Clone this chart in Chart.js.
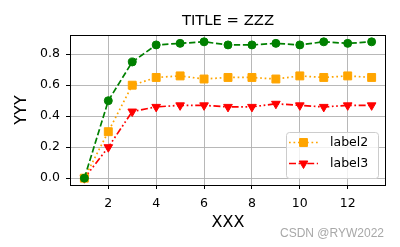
<!DOCTYPE html>
<html>
<head>
<meta charset="utf-8">
<script src="https://cdn.jsdelivr.net/npm/chart.js@4/dist/chart.umd.min.js"></script>
<style>
html,body{margin:0;padding:0;background:#fff;}
#c{display:block;}
</style>
</head>
<body>
<canvas id="c" width="400" height="247"></canvas>
<script>
// ---- data ----
const xValues = [1, 2, 3, 4, 5, 6, 7, 8, 9, 10, 11, 12, 13];
const seriesGreen  = [0.00, 0.50, 0.75, 0.86, 0.87, 0.88, 0.86, 0.86, 0.87, 0.86, 0.88, 0.87, 0.88];
const seriesLabel2 = [0.00, 0.30, 0.60, 0.65, 0.66, 0.64, 0.65, 0.65, 0.64, 0.66, 0.65, 0.66, 0.65];
const seriesLabel3 = [0.00, 0.20, 0.43, 0.46, 0.47, 0.47, 0.46, 0.46, 0.48, 0.47, 0.46, 0.47, 0.47];
const xTicks = [2, 4, 6, 8, 10, 12];
const yTicks = [0.0, 0.2, 0.4, 0.6, 0.8];
const titleText = 'TITLE = ZZZ';
const xLabel = 'XXX';
const yLabel = 'YYY';
const watermark = 'CSDN @RYW2022';

const toPts = s => xValues.map((x, i) => ({x: x, y: s[i]}));
const LW = 1.7;

const datasets = [
  {label: '', data: toPts(seriesGreen), borderColor: '#008000', backgroundColor: '#008000',
   borderDash: [6.3, 2.7], pointStyle: 'circle', pointRadius: 4, pointRotation: 0},
  {label: 'label2', data: toPts(seriesLabel2), borderColor: '#FFA500', backgroundColor: '#FFA500',
   borderDash: [1.7, 2.8], pointStyle: 'rect', pointRadius: 5.6, pointRotation: 0},
  {label: 'label3', data: toPts(seriesLabel3), borderColor: '#FF0000', backgroundColor: '#FF0000',
   borderDash: [7, 2.6, 1.7, 2.6, 1.7, 2.6], pointStyle: 'triangle', pointRadius: 5, pointRotation: 180}
].map(d => Object.assign(d, {
  borderWidth: LW, fill: false, tension: 0,
  pointBackgroundColor: d.backgroundColor, pointBorderColor: d.borderColor, pointBorderWidth: 1
}));

const FONT = 'DejaVu Sans';
const TICK_SIZE = 12.5;

const decor = {
  id: 'decor',
  afterDatasetsDraw(chart) {
    const {ctx, chartArea: a} = chart;
    ctx.save();
    ctx.strokeStyle = '#000';
    ctx.lineWidth = 1;
    ctx.strokeRect(Math.round(a.left) + 0.5, Math.round(a.top) + 0.5,
                   Math.round(a.right - a.left) - 1, Math.round(a.bottom - a.top));
    ctx.restore();
  },
  afterDraw(chart) {
    const {ctx, chartArea: a} = chart;
    ctx.save();
    // title
    ctx.fillStyle = '#000';
    ctx.font = '14.8px "' + FONT + '"';
    ctx.textAlign = 'center';
    ctx.textBaseline = 'alphabetic';
    ctx.fillText(titleText, (a.left + a.right) / 2, 24.5);

    // legend
    const items = chart.data.datasets.filter(d => d.label);
    const bx = 286.5, by = 132.5, bw = 92, bh = 46, r = 3;
    ctx.beginPath();
    ctx.moveTo(bx + r, by);
    ctx.arcTo(bx + bw, by, bx + bw, by + bh, r);
    ctx.arcTo(bx + bw, by + bh, bx, by + bh, r);
    ctx.arcTo(bx, by + bh, bx, by, r);
    ctx.arcTo(bx, by, bx + bw, by, r);
    ctx.closePath();
    ctx.fillStyle = 'rgba(255,255,255,0.8)';
    ctx.fill();
    ctx.strokeStyle = '#cccccc';
    ctx.lineWidth = 1;
    ctx.stroke();
    items.forEach((d, i) => {
      const y = 142.5 + i * 21;
      ctx.save();
      ctx.strokeStyle = d.borderColor;
      ctx.lineWidth = LW;
      ctx.setLineDash(d.borderDash);
      ctx.beginPath();
      ctx.moveTo(289, y);
      ctx.lineTo(318, y);
      ctx.stroke();
      ctx.restore();
      ctx.save();
      ctx.fillStyle = d.backgroundColor;
      ctx.strokeStyle = d.borderColor;
      ctx.lineWidth = 1;
      Chart.helpers.drawPoint(ctx, {pointStyle: d.pointStyle, radius: d.pointRadius,
        rotation: d.pointRotation, borderWidth: 1}, 303.5, y);
      ctx.restore();
      ctx.fillStyle = '#000';
      ctx.font = TICK_SIZE + 'px "' + FONT + '"';
      ctx.textAlign = 'left';
      ctx.textBaseline = 'middle';
      ctx.fillText(d.label, 330, y + 0.5);
    });

    // watermark
    ctx.fillStyle = '#a8a8a8';
    ctx.font = '12px "Liberation Sans"';
    ctx.textAlign = 'right';
    ctx.textBaseline = 'alphabetic';
    ctx.fillText(watermark, 384, 237);
    ctx.restore();
  }
};

new Chart(document.getElementById('c'), {
  type: 'line',
  data: {datasets: datasets},
  plugins: [decor],
  options: {
    responsive: false,
    devicePixelRatio: 1,
    animation: false,
    events: [],
    layout: {padding: {left: 0, right: 14, top: 35, bottom: 0}},
    plugins: {legend: {display: false}, title: {display: false}, tooltip: {enabled: false}},
    scales: {
      x: {
        type: 'linear', min: 0.4, max: 13.6,
        afterBuildTicks: s => { s.ticks = xTicks.map(v => ({value: v})); },
        afterFit: s => { s.height = 62; },
        grid: {color: '#b0b0b0', lineWidth: 0.9, drawTicks: true, tickLength: 4, tickColor: '#000', tickWidth: 1},
        border: {display: false},
        ticks: {color: '#000', font: {family: FONT, size: TICK_SIZE}, padding: 7, maxRotation: 0,
                callback: v => String(v)},
        title: {display: true, text: xLabel, color: '#000', font: {family: FONT, size: 16},
                padding: {top: 0, bottom: 15}}
      },
      y: {
        type: 'linear', min: -0.044, max: 0.924,
        afterBuildTicks: s => { s.ticks = yTicks.map(v => ({value: v})); },
        afterFit: s => { s.width = 70; },
        grid: {color: '#b0b0b0', lineWidth: 0.9, drawTicks: true, tickLength: 4, tickColor: '#000', tickWidth: 1},
        border: {display: false},
        ticks: {color: '#000', font: {family: FONT, size: TICK_SIZE}, padding: 6,
                callback: v => Number(v).toFixed(1)},
        title: {display: true, text: yLabel, color: '#000', font: {family: FONT, size: 16},
                padding: {top: 12, bottom: 0}}
      }
    }
  }
});
</script>
</body>
</html>
